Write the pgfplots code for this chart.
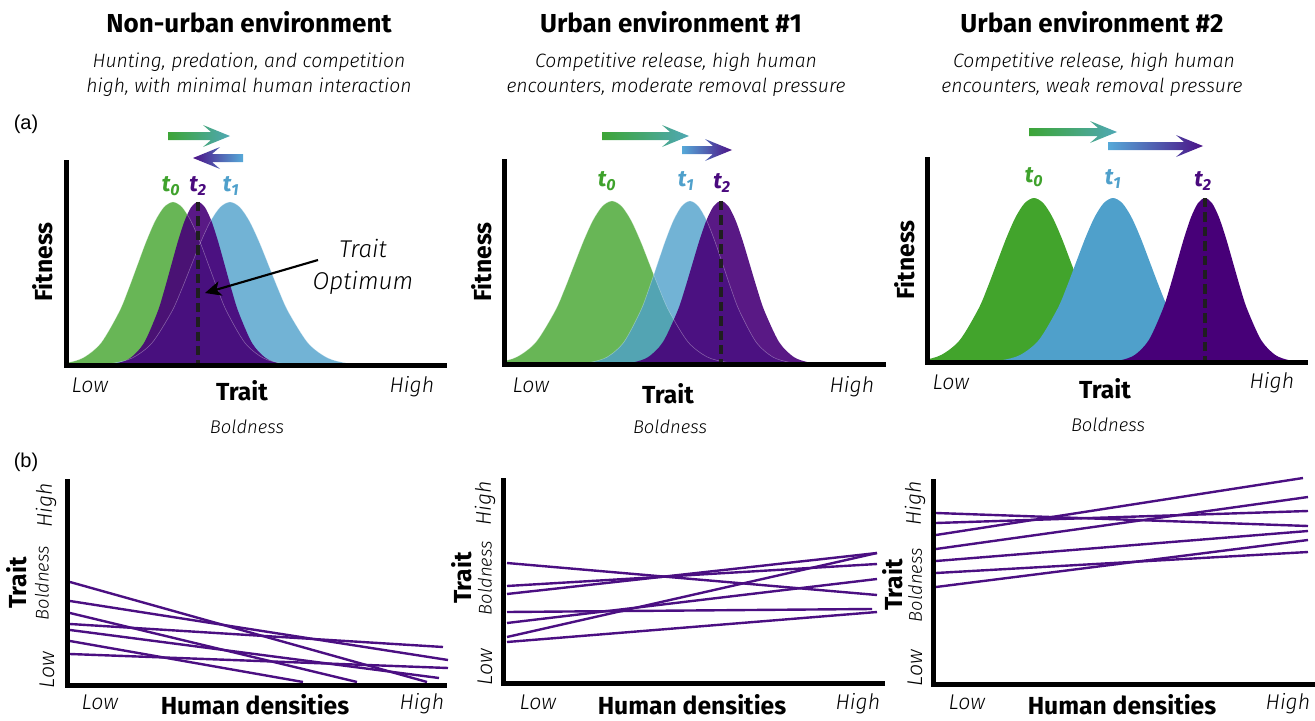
\documentclass[border=0pt]{standalone}
\usepackage{fontspec}
\IfFontExistsTF{FiraSans-LightItalic.otf}{\def\itf{FiraSans-LightItalic.otf}}{%
  \IfFontExistsTF{Fira Sans Light Italic}{\def\itf{Fira Sans Light Italic}}{%
    \IfFontExistsTF{FiraSansLight-Italic}{\def\itf{FiraSansLight-Italic}}{\def\itf{Fira Sans Italic}}}}
\setmainfont{Fira Sans}[ItalicFont=\itf, BoldItalicFont={Fira Sans Bold Italic}]
\newfontfamily\arialf{Liberation Sans}
\usepackage{pgfplots}
\usepackage{pgfplotstable}
\pgfplotsset{compat=1.18}
\usetikzlibrary{arrows.meta}

\definecolor{gA}{HTML}{42A42C}
\definecolor{bA}{HTML}{4FA0CB}
\definecolor{pA}{HTML}{470078}
\definecolor{lnP}{HTML}{4B0F82}
\definecolor{tG}{HTML}{3FA22C}
\definecolor{tB}{HTML}{4FA0CB}
\definecolor{tP}{HTML}{4A0A7E}
\definecolor{arG}{HTML}{3DA537}
\definecolor{arT}{HTML}{4FA8B4}
\definecolor{arB}{HTML}{56A9D8}
\definecolor{arP}{HTML}{4B1287}

% fitness curves: x in pixel units of the panel, y relative to the peak
\pgfplotstableread{
x y
47 0.0022
65 0.0111
83 0.0439
101 0.1353
119 0.3247
128 0.4578
137 0.6065
146 0.7548
155 0.8825
164 0.9692
173 1
182 0.9692
191 0.8825
200 0.7548
209 0.6065
218 0.4578
227 0.3247
245 0.1353
263 0.0439
281 0.0111
299 0.0022
}\aOneG
\pgfplotstableread{
x y
103.5 0.0022
117 0.0111
130.5 0.0439
144 0.1353
157.5 0.3247
164.25 0.4578
171 0.6065
177.75 0.7548
184.5 0.8825
191.25 0.9692
198 1
204.75 0.9692
211.5 0.8825
218.25 0.7548
225 0.6065
231.75 0.4578
238.5 0.3247
252 0.1353
265.5 0.0439
279 0.0111
292.5 0.0022
}\aOneP
\pgfplotstableread{
x y
93.5 0.0022
113 0.0111
132.5 0.0439
152 0.1353
171.5 0.3247
181.25 0.4578
191 0.6065
200.75 0.7548
210.5 0.8825
220.25 0.9692
230 1
239.75 0.9692
249.5 0.8825
259.25 0.7548
269 0.6065
278.75 0.4578
288.5 0.3247
308 0.1353
327.5 0.0439
347 0.0111
366.5 0.0022
}\aOneB
\pgfplotstableread{
x y
479 0.0022
498 0.0111
517 0.0439
536 0.1353
555 0.3247
564.5 0.4578
574 0.6065
583.5 0.7548
593 0.8825
602.5 0.9692
612 1
621.5 0.9692
631 0.8825
640.5 0.7548
650 0.6065
659.5 0.4578
669 0.3247
688 0.1353
707 0.0439
726 0.0111
745 0.0022
}\aTwoG
\pgfplotstableread{
x y
574.5 0.0022
591 0.0111
607.5 0.0439
624 0.1353
640.5 0.3247
648.75 0.4578
657 0.6065
665.25 0.7548
673.5 0.8825
681.75 0.9692
690 1
698.25 0.9692
706.5 0.8825
714.75 0.7548
723 0.6065
731.25 0.4578
739.5 0.3247
756 0.1353
772.5 0.0439
789 0.0111
805.5 0.0022
}\aTwoB
\pgfplotstableread{
x y
619.5 0.0022
634 0.0111
648.5 0.0439
663 0.1353
677.5 0.3247
684.75 0.4578
692 0.6065
699.25 0.7548
706.5 0.8825
713.75 0.9692
721 1
728.25 0.9692
735.5 0.8825
742.75 0.7548
750 0.6065
757.25 0.4578
764.5 0.3247
779 0.1353
793.5 0.0439
808 0.0111
822.5 0.0022
}\aTwoP
\pgfplotstableread{
x y
904.5 0.0022
923 0.0111
941.5 0.0439
960 0.1353
978.5 0.3247
987.75 0.4578
997 0.6065
1006.25 0.7548
1015.5 0.8825
1024.75 0.9692
1034 1
1043.25 0.9692
1052.5 0.8825
1061.75 0.7548
1071 0.6065
1080.25 0.4578
1089.5 0.3247
1108 0.1353
1126.5 0.0439
1145 0.0111
1163.5 0.0022
}\aThrG
\pgfplotstableread{
x y
983.5 0.0022
1002 0.0111
1020.5 0.0439
1039 0.1353
1057.5 0.3247
1066.75 0.4578
1076 0.6065
1085.25 0.7548
1094.5 0.8825
1103.75 0.9692
1113 1
1122.25 0.9692
1131.5 0.8825
1140.75 0.7548
1150 0.6065
1159.25 0.4578
1168.5 0.3247
1187 0.1353
1205.5 0.0439
1224 0.0111
1242.5 0.0022
}\aThrB
\pgfplotstableread{
x y
1107 0.0022
1121 0.0111
1135 0.0439
1149 0.1353
1163 0.3247
1170 0.4578
1177 0.6065
1184 0.7548
1191 0.8825
1198 0.9692
1205 1
1212 0.9692
1219 0.8825
1226 0.7548
1233 0.6065
1240 0.4578
1247 0.3247
1261 0.1353
1275 0.0439
1289 0.0111
1303 0.0022
}\aThrP

\pgfplotsset{
  panel/.style={scale only axis, anchor=south west,
    axis x line=bottom, axis y line=left,
    axis line style={line width=3.75pt, line cap=rect, -},
    x axis line style={-}, y axis line style={-},
    xtick=\empty, ytick=\empty, ymin=0, axis on top},
  gfill/.style={draw=none, fill=gA, fill opacity=#1, smooth},
  bfill/.style={draw=none, fill=bA, fill opacity=#1, smooth},
  pfill/.style={draw=none, fill=pA, fill opacity=#1, smooth},
  outl/.style={draw=white, draw opacity=0.35, line width=0.4pt, smooth},
  opt/.style={black!88, line width=2.8pt, dash pattern=on 7pt off 3.8pt},
  trl/.style={lnP, line width=1.8pt},
}

\newcommand\rarrow[5]{\shade[left color=#4,right color=#5] (#1,{#3-4}) -- ({#2-19},{#3-4}) -- ({#2-27},{#3-11}) -- (#2,#3) -- ({#2-27},{#3+11}) -- ({#2-19},{#3+4}) -- (#1,{#3+4}) -- cycle;}
\newcommand\larrow[5]{\shade[left color=#4,right color=#5] (#1,{#3-4}) -- ({#2+19},{#3-4}) -- ({#2+27},{#3-11}) -- (#2,#3) -- ({#2+27},{#3+11}) -- ({#2+19},{#3+4}) -- (#1,{#3+4}) -- cycle;}

\newcommand\fT{\fontsize{19.5}{22}\selectfont\bfseries}
\newcommand\fS{\fontsize{14.5}{18}\selectfont\itshape}
\newcommand\fLH{\fontsize{16}{18}\selectfont\itshape}
\newcommand\fB{\fontsize{13.8}{16}\selectfont\itshape}
\newcommand\fAx{\fontsize{18.5}{20}\selectfont\bfseries}
\newcommand\fTl{\fontsize{17}{18}\selectfont\bfseries\itshape}
\newcommand\tl[1]{t\textsubscript{\fontsize{12}{12}\selectfont #1}}

\begin{document}
\begin{tikzpicture}
\begin{scope}[x=0.75pt,y=-0.75pt]
\path[use as bounding box] (0,0) rectangle (1315,721);
\coordinate (A1) at (66,365);
\coordinate (A2) at (504,364);
\coordinate (A3) at (927,362);
\coordinate (B1) at (67,685);
\coordinate (B2) at (503,683);
\coordinate (B3) at (933,684);
\tikzset{every node/.style={inner sep=0pt}}
% titles
\node[font=\fT] at (249,22) {Non-urban environment};
\node[font=\fS] at (249,62.5) {Hunting, predation, and competition};
\node[font=\fS] at (249,87) {high, with minimal human interaction};
\node[font=\fT] at (671,22) {Urban environment \#1};
\node[font=\fS] at (676,62.5) {Competitive release, high human};
\node[font=\fS] at (676,87) {encounters, moderate removal pressure};
\node[font=\fT] at (1092,22) {Urban environment \#2};
\node[font=\fS] at (1094,62.5) {Competitive release, high human};
\node[font=\fS] at (1092,87) {encounters, weak removal pressure};
\node[font=\arialf\fontsize{15}{18}\selectfont] at (26,124) {(a)};
\node[font=\arialf\fontsize{15}{18}\selectfont] at (26,462) {(b)};
% top panel labels
\node[font=\fAx, rotate=90] at (43,262) {Fitness};
\node[font=\fAx, rotate=90] at (482,262) {Fitness};
\node[font=\fAx, rotate=90] at (905,260) {Fitness};
\node[font=\fLH] at (90,385) {Low};
\node[font=\fLH] at (412,387) {High};
\node[font=\fAx] at (242,391) {Trait};
\node[font=\fB] at (247,427) {Boldness};
\node[font=\fLH] at (531,385) {Low};
\node[font=\fLH] at (852,387) {High};
\node[font=\fAx] at (668,394) {Trait};
\node[font=\fB] at (670,427) {Boldness};
\node[font=\fLH] at (951,382) {Low};
\node[font=\fLH] at (1272,383) {High};
\node[font=\fAx] at (1105,389) {Trait};
\node[font=\fB] at (1108,425) {Boldness};
% time labels
\node[font=\fTl, text=tG] at (171,186) {\tl{0}};
\node[font=\fTl, text=tP] at (198,186) {\tl{2}};
\node[font=\fTl, text=tB] at (231,186) {\tl{1}};
\node[font=\fTl, text=tG] at (607,181) {\tl{0}};
\node[font=\fTl, text=tB] at (686,181) {\tl{1}};
\node[font=\fTl, text=tP] at (722,183) {\tl{2}};
\node[font=\fTl, text=tG] at (1034,177) {\tl{0}};
\node[font=\fTl, text=tB] at (1113,179) {\tl{1}};
\node[font=\fTl, text=tP] at (1203,181) {\tl{2}};
% shift arrows
\rarrow{168}{230}{136}{arG}{arT}
\larrow{243}{193}{158}{arP}{arB}
\rarrow{602}{689}{136}{arG}{arT}
\rarrow{682}{732}{150}{arB}{arP}
\rarrow{1029}{1117}{132}{arG}{arT}
\rarrow{1108}{1203}{146}{arB}{arP}
% trait optimum text
\node[font=\fontsize{18.2}{20}\selectfont\itshape] at (363,248) {Trait};
\node[font=\fontsize{18.2}{20}\selectfont\itshape] at (363,283) {Optimum};
% bottom panel labels
\foreach \xa/\xb/\xc/\xd/\xe/\xf/\xg/\ya/\yb/\yc in {47/42/46/17/100/255/422/670/583/505, 485/485/485/462/538/692/858/667/578/503, 915/915/915/893/967/1122/1288/668/585/503}{
  \node[font=\fLH, rotate=90] at (\xa,\ya) {Low};
  \node[font=\fB, rotate=90] at (\xb,\yb) {Boldness};
  \node[font=\fLH, rotate=90] at (\xc,\yc) {High};
  \node[font=\fAx, rotate=90] at (\xd,\yb) {Trait};
  \node[font=\fLH] at (\xe,702) {Low};
  \node[font=\fAx] at (\xf,704.5) {Human densities};
  \node[font=\fLH] at (\xg,704) {High};
}
\end{scope}

% (a) top panels
\begin{axis}[panel, at={(A1)}, width=283.875pt, height=151.875pt, xmin=66, xmax=444.5, ymax=1.2423]
\addplot[gfill=0.8] table {\aOneG} \closedcycle;
\addplot[bfill=0.8] table {\aOneB} \closedcycle;
\addplot[pfill=0.9] table {\aOneP} \closedcycle;
\addplot[outl] table {\aOneG};
\addplot[outl] table {\aOneB};
\addplot[opt] coordinates {(198,1) (198,0)};
\end{axis}
\begin{axis}[panel, at={(A2)}, width=284.625pt, height=151.875pt, xmin=504, xmax=883.5, ymax=1.2423]
\addplot[gfill=0.8] table {\aTwoG} \closedcycle;
\addplot[bfill=0.8] table {\aTwoB} \closedcycle;
\addplot[pfill=0.9] table {\aTwoP} \closedcycle;
\addplot[outl] table {\aTwoG};
\addplot[outl] table {\aTwoB};
\addplot[opt] coordinates {(721,1) (721,0)};
\end{axis}
\begin{axis}[panel, at={(A3)}, width=283.875pt, height=151.875pt, xmin=927, xmax=1305.5, ymax=1.2348]
\addplot[gfill=1] table {\aThrG} \closedcycle;
\addplot[bfill=1] table {\aThrB} \closedcycle;
\addplot[pfill=1] table {\aThrP} \closedcycle;
\addplot[opt] coordinates {(1205,1) (1205,0)};
\end{axis}

% (b) bottom panels: y in pixel units above the axis line
\begin{axis}[panel, clip=false, at={(B1)}, width=283.125pt, height=152.625pt, xmin=67, xmax=444.5, ymax=203.5]
\addplot[trl] coordinates {(70,103) (427,3)};
\addplot[trl] coordinates {(70,84) (448,25)};
\addplot[trl] coordinates {(70,72) (357,3)};
\addplot[trl] coordinates {(70,61) (443,38)};
\addplot[trl] coordinates {(70,55) (439,7)};
\addplot[trl] coordinates {(70,44) (303,3)};
\addplot[trl] coordinates {(70,31) (448,17)};
\end{axis}
\begin{axis}[panel, clip=false, at={(B2)}, width=284.625pt, height=151.875pt, xmin=503, xmax=882.5, ymax=202.5]
\addplot[trl] coordinates {(507,120) (877,88)};
\addplot[trl] coordinates {(507,97) (877,119)};
\addplot[trl] coordinates {(507,89) (877,130)};
\addplot[trl] coordinates {(507,71) (872,74)};
\addplot[trl] coordinates {(507,60) (877,104)};
\addplot[trl] coordinates {(507,46) (877,130)};
\addplot[trl] coordinates {(507,41) (877,71)};
\end{axis}
\begin{axis}[panel, clip=false, at={(B3)}, width=284.625pt, height=151.875pt, xmin=933, xmax=1312.5, ymax=202.5]
\addplot[trl] coordinates {(936,171) (1308,158)};
\addplot[trl] coordinates {(936,161) (1308,173)};
\addplot[trl] coordinates {(936,149) (1303,206)};
\addplot[trl] coordinates {(936,135) (1308,187)};
\addplot[trl] coordinates {(936,123) (1308,153)};
\addplot[trl] coordinates {(936,111) (1308,132)};
\addplot[trl] coordinates {(936,97) (1308,144)};
\end{axis}

% trait optimum pointer, drawn over the curves
\begin{scope}[x=0.75pt,y=-0.75pt]
\draw[line width=1.6pt, -{Stealth[length=12pt,width=11pt,inset=3pt]}] (318,260) -- (205,293);
\end{scope}
\end{tikzpicture}
\end{document}
